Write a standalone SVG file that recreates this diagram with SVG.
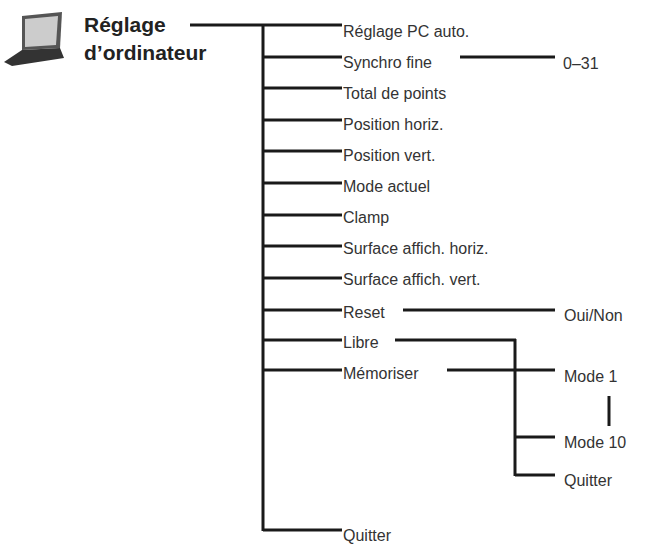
<svg xmlns="http://www.w3.org/2000/svg" width="648" height="551" viewBox="0 0 648 551">
<style>
text{font-family:"Liberation Sans",Arial,sans-serif;font-size:16px;fill:#333}
.t{font-size:21px;font-weight:bold;fill:#222}
line{stroke:#1a1a1a;stroke-width:3}
</style>
<rect width="648" height="551" fill="#fff"/>
<g id="icon">
<polygon points="22,16 62,12 60,48 22,50" fill="#555"/>
<polygon points="25,19 58,16 56,45 25,47" fill="#ccc"/>
<polygon points="22,50 60,48 64,58 12,66 4,62" fill="#333"/>
</g>
<g id="title"><text class="t" x="84" y="32">Réglage</text><text class="t" x="84" y="60">d’ordinateur</text></g>
<g id="connectors">
<line x1="190" y1="25" x2="342" y2="25"/>
<line x1="263" y1="24" x2="263" y2="531"/>
<line x1="263" y1="57" x2="342" y2="57"/>
<line x1="263" y1="88" x2="342" y2="88"/>
<line x1="263" y1="120" x2="342" y2="120"/>
<line x1="263" y1="151" x2="342" y2="151"/>
<line x1="263" y1="183" x2="342" y2="183"/>
<line x1="263" y1="215" x2="342" y2="215"/>
<line x1="263" y1="246" x2="342" y2="246"/>
<line x1="263" y1="278" x2="342" y2="278"/>
<line x1="263" y1="310" x2="342" y2="310"/>
<line x1="263" y1="340" x2="342" y2="340"/>
<line x1="263" y1="370" x2="342" y2="370"/>
<line x1="263" y1="530" x2="342" y2="530"/>
<line x1="460" y1="57" x2="555" y2="57"/>
<line x1="403" y1="310" x2="555" y2="310"/>
<line x1="395" y1="340" x2="516" y2="340"/>
<line x1="515" y1="339" x2="515" y2="476"/>
<line x1="447" y1="370" x2="555" y2="370"/>
<line x1="515" y1="437" x2="555" y2="437"/>
<line x1="515" y1="475" x2="555" y2="475"/>
<line x1="609" y1="396" x2="609" y2="426"/>
</g>
<g id="items">
<text x="343" y="37">Réglage PC auto.</text>
<text x="343" y="68">Synchro fine</text>
<text x="563" y="69">0–31</text>
<text x="343" y="99">Total de points</text>
<text x="343" y="130">Position horiz.</text>
<text x="343" y="161">Position vert.</text>
<text x="343" y="192">Mode actuel</text>
<text x="343" y="223">Clamp</text>
<text x="343" y="254">Surface affich. horiz.</text>
<text x="343" y="285">Surface affich. vert.</text>
<text x="343" y="318">Reset</text>
<text x="564" y="321">Oui/Non</text>
<text x="343" y="348">Libre</text>
<text x="343" y="379">Mémoriser</text>
<text x="564" y="382">Mode 1</text>
<text x="564" y="448">Mode 10</text>
<text x="564" y="486">Quitter</text>
<text x="343" y="541">Quitter</text>
</g>
</svg>
